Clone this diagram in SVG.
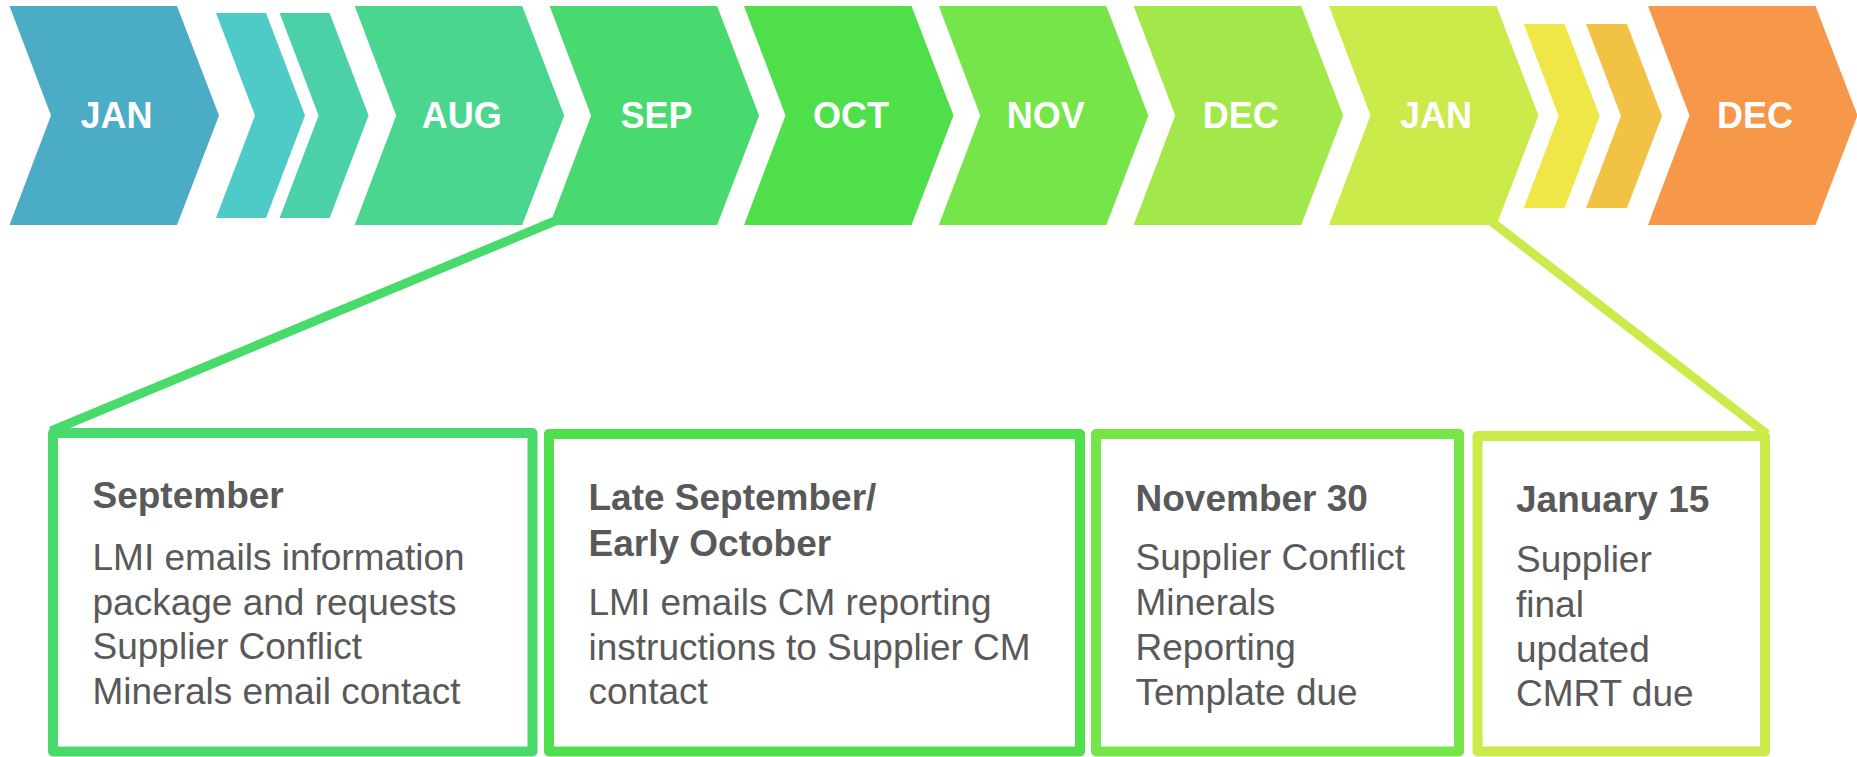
<svg xmlns="http://www.w3.org/2000/svg" xmlns:xlink="http://www.w3.org/1999/xlink" width="1857" height="757" viewBox="0 0 1857 757">
<style>
.mon{font-family:"Liberation Sans",Arial,sans-serif;font-size:36px;font-weight:bold;fill:#ffffff;text-anchor:middle}
.ttl{font-family:"Liberation Sans",Arial,sans-serif;font-size:37px;font-weight:bold;fill:#595959}
.body{font-family:"Liberation Sans",Arial,sans-serif;font-size:37px;fill:#595959}
.box{fill:#ffffff;stroke-width:10;stroke-linejoin:round}
.con{stroke-width:9;fill:none;stroke-linecap:butt}
</style>
<defs>
<polygon id="chev" points="0,6 167.5,6 209.5,115.5 167.5,225 0,225 41.5,115.5"/>
<polygon id="smallA" points="0,13 50,13 89,115.5 50,218 0,218 39,115.5"/>
<polygon id="smallB" points="0,24 41,24 76,116 41,208 0,208 35,116"/>
</defs>
<rect width="1857" height="757" fill="#ffffff"/>
<g id="connectors">
<line class="con" x1="555" y1="221" x2="51" y2="431" stroke="#48DB6C"/>
<line class="con" x1="1492" y1="222" x2="1767" y2="434" stroke="#CAEB4A"/>
</g>
<g id="m-jan"><use xlink:href="#chev" x="9.5" fill="#4BACC6"/><text class="mon" x="116.5" y="128">JAN</text></g>
<g id="s1"><use xlink:href="#smallA" x="216" fill="#4ECBC6"/></g>
<g id="s2"><use xlink:href="#smallA" x="279.6" fill="#4BD0A8"/></g>
<g id="m-aug"><use xlink:href="#chev" x="354.7" fill="#4AD68E"/><text class="mon" x="461.7" y="128">AUG</text></g>
<g id="m-sep"><use xlink:href="#chev" x="549.6" fill="#48DA6E"/><text class="mon" x="656.6" y="128">SEP</text></g>
<g id="m-oct"><use xlink:href="#chev" x="744" fill="#4EDF4B"/><text class="mon" x="851" y="128">OCT</text></g>
<g id="m-nov"><use xlink:href="#chev" x="938.8" fill="#75E54A"/><text class="mon" x="1045.8" y="128">NOV</text></g>
<g id="m-dec"><use xlink:href="#chev" x="1133.7" fill="#A3E84A"/><text class="mon" x="1240.7" y="128">DEC</text></g>
<g id="m-jan2"><use xlink:href="#chev" x="1329" fill="#CAEB4A"/><text class="mon" x="1436" y="128">JAN</text></g>
<g id="s3"><use xlink:href="#smallB" x="1523.7" fill="#EFE748"/></g>
<g id="s4"><use xlink:href="#smallB" x="1586" fill="#F2C245"/></g>
<g id="m-dec2"><use xlink:href="#chev" x="1648" fill="#F69749"/><text class="mon" x="1755" y="128">DEC</text></g>
<g id="box-sep">
<rect class="box" x="53" y="433" width="479.5" height="318.5" stroke="#48DB6C"/>
<text class="ttl" x="92.5" y="508">September</text>
<text class="body" x="92.5" y="570">LMI emails information</text>
<text class="body" x="92.5" y="614.5">package and requests</text>
<text class="body" x="92.5" y="659">Supplier Conflict</text>
<text class="body" x="92.5" y="703.5">Minerals email contact</text>
</g>
<g id="box-oct">
<rect class="box" x="549" y="434" width="531" height="317.5" stroke="#4EDF4B"/>
<text class="ttl" x="588.5" y="510">Late September/</text>
<text class="ttl" x="588.5" y="556">Early October</text>
<text class="body" x="588.5" y="615">LMI emails CM reporting</text>
<text class="body" x="588.5" y="659.5">instructions to Supplier CM</text>
<text class="body" x="588.5" y="704">contact</text>
</g>
<g id="box-nov">
<rect class="box" x="1096" y="434" width="363" height="317.5" stroke="#75E54A"/>
<text class="ttl" x="1135.5" y="511">November 30</text>
<text class="body" x="1135.5" y="570">Supplier Conflict</text>
<text class="body" x="1135.5" y="615">Minerals</text>
<text class="body" x="1135.5" y="660">Reporting</text>
<text class="body" x="1135.5" y="705">Template due</text>
</g>
<g id="box-jan">
<rect class="box" x="1477.5" y="436" width="287.5" height="315.5" stroke="#CAEB4A"/>
<text class="ttl" x="1516" y="512">January 15</text>
<text class="body" x="1516" y="572">Supplier</text>
<text class="body" x="1516" y="617">final</text>
<text class="body" x="1516" y="662">updated</text>
<text class="body" x="1516" y="706">CMRT due</text>
</g>
</svg>
